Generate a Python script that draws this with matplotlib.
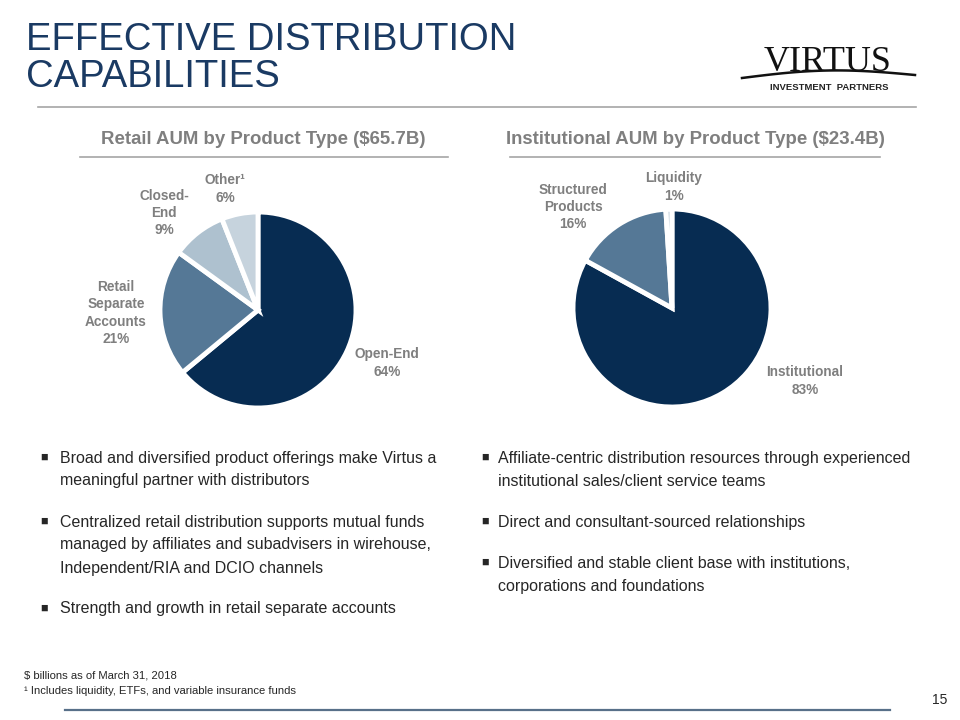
import numpy as np
import matplotlib
matplotlib.use("Agg")
import matplotlib.pyplot as plt

plt.rcParams['font.family'] = ['Liberation Sans', 'DejaVu Sans']

# data
retail_labels = ["Open-End\n64%", "Retail\nSeparate\nAccounts\n21%", "Closed-\nEnd\n9%", "Other\u00b9\n6%"]
retail_share = [64, 21, 9, 6]
retail_colors = ["#072C52", "#557896", "#AEC1CF", "#C6D3DD"]

inst_labels = ["Institutional\n83%", "Structured\nProducts\n16%", "Liquidity\n1%"]
inst_share = [83, 16, 1]
inst_colors = ["#072C52", "#557896", "#C6D3DD"]

left_bullets = [
    ["Broad and diversified product offerings make Virtus a", "meaningful partner with distributors"],
    ["Centralized retail distribution supports mutual funds",
     "managed by affiliates and subadvisers in wirehouse,",
     "Independent/RIA and DCIO channels"],
    ["Strength and growth in retail separate accounts"],
]
right_bullets = [
    ["Affiliate-centric distribution resources through experienced",
     "institutional sales/client service teams"],
    ["Direct and consultant-sourced relationships"],
    ["Diversified and stable client base with institutions,", "corporations and foundations"],
]

W, H = 960, 720
navy = "#1A3A63"
grey_lbl = "#7F7F7F"

fig = plt.figure(figsize=(9.6, 7.2), dpi=100)


def px(x, y):
    return x / W, 1 - y / H


# title
fig.text(*px(26, 40), "EFFECTIVE DISTRIBUTION", fontsize=27.5, color=navy, va='center', ha='left')
fig.text(*px(26, 77), "CAPABILITIES", fontsize=27.5, color=navy, va='center', ha='left')
fig.add_artist(plt.Line2D([38 / W, 916 / W], [1 - 107 / H] * 2, color="#A6A6A6", lw=1.2))

# logo
fig.text(*px(828, 71), "VIRTUS", fontsize=26, family='Liberation Serif', color="#111111",
         ha='center', va='baseline')
sx = np.linspace(742, 915, 60)
sy = 78 - 6 * np.sin((sx - 742) / (915 - 742) * np.pi) - 3 * (sx - 742) / 173
fig.add_artist(plt.Line2D(sx / W, 1 - sy / H, color="#111111", lw=1.8))
fig.text(*px(829, 88), "INVESTMENT  PARTNERS", fontsize=6.8, fontweight='bold',
         color="#222222", ha='center', va='center')

# subtitles
fig.text(*px(263, 140), "Retail AUM by Product Type ($65.7B)", fontsize=13.4, fontweight='bold',
         color=grey_lbl, ha='center', va='center')
fig.add_artist(plt.Line2D([80 / W, 448 / W], [1 - 157 / H] * 2, color="#A6A6A6", lw=1.2))
fig.text(*px(695, 140), "Institutional AUM by Product Type ($23.4B)", fontsize=13.4, fontweight='bold',
         color=grey_lbl, ha='center', va='center')
fig.add_artist(plt.Line2D([510 / W, 880 / W], [1 - 157 / H] * 2, color="#A6A6A6", lw=1.2))


def pie_axes(cx, cy):
    half = 120
    ax = fig.add_axes([(cx - half) / W, (H - cy - half) / H, 2 * half / W, 2 * half / H])
    return ax


def finish(ax):
    ax.set_xlim(-1.2, 1.2)
    ax.set_ylim(-1.2, 1.2)
    ax.axis('off')


ax1 = pie_axes(258, 310)
ax1.pie(retail_share, colors=retail_colors, startangle=90, counterclock=False, radius=98 / 100,
        wedgeprops=dict(edgecolor='white', linewidth=3.5))
finish(ax1)
ax2 = pie_axes(672, 308)
ax2.pie(inst_share, colors=inst_colors, startangle=90, counterclock=False, radius=99 / 100,
        wedgeprops=dict(edgecolor='white', linewidth=3.5))
finish(ax2)

# slice labels
retail_pos = [(387, 363), (116, 313), (164, 213), (225, 189)]
inst_pos = [(805, 381), (573, 207), (674, 187)]
for lab, (x, y) in zip(retail_labels, retail_pos):
    fig.text(*px(x, y), lab, fontsize=9.8, fontweight='bold', color=grey_lbl,
             ha='center', va='center', linespacing=1.3)
for lab, (x, y) in zip(inst_labels, inst_pos):
    fig.text(*px(x, y), lab, fontsize=9.8, fontweight='bold', color=grey_lbl,
             ha='center', va='center', linespacing=1.3)


# bullets
def bullets(items, bx, tx, y0, gap):
    y = y0
    for lines in items:
        fig.text(*px(bx, y), "\u25A0", fontsize=9, color="#262626", ha='left', va='center')
        for ln in lines:
            fig.text(*px(tx, y), ln, fontsize=11.5, color="#262626", ha='left', va='center')
            y += 23
        y += gap


bullets(left_bullets, 40, 60, 458, 18)
bullets(right_bullets, 481, 498, 458, 18)

# footnotes
fig.text(*px(24, 676), "$ billions as of March 31, 2018", fontsize=8.1, color="#262626",
         ha='left', va='center')
fig.text(*px(24, 691), "\u00b9 Includes liquidity, ETFs, and variable insurance funds", fontsize=8.1,
         color="#262626", ha='left', va='center')
fig.add_artist(plt.Line2D([65 / W, 890 / W], [1 - 710 / H] * 2, color="#587089", lw=1.6))
fig.text(*px(940, 700), "15", fontsize=10, color="#262626", ha='center', va='center')

fig.savefig("out.png", dpi=100)
